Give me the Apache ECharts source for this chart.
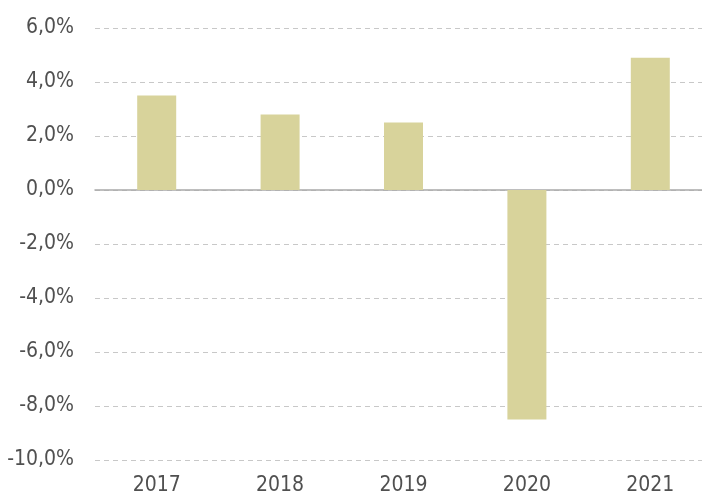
<!DOCTYPE html>
<html><head><meta charset="utf-8">
<script src="https://cdn.jsdelivr.net/npm/echarts@6/dist/echarts.min.js"></script>
<style>html,body{margin:0;padding:0;background:#fff}#c{width:702px;height:496px}</style>
</head><body><div id="c"></div>
<script>
const categories = ['2017', '2018', '2019', '2020', '2021'];
const growth = [3.5, 2.8, 2.5, -8.5, 4.9];
const yMin = -10, yMax = 6, yStep = 2;

const FONT = '"DejaVu Sans Condensed", "DejaVu Sans", sans-serif';
const chart = echarts.init(document.getElementById('c'), null, {renderer: 'canvas'});
chart.setOption({
  animation: false,
  grid: {left: 95, width: 617, top: 28, height: 432, containLabel: false, outerBoundsMode: 'none'},
  xAxis: {
    type: 'category', data: categories,
    axisLine: {onZero: true, lineStyle: {color: '#a9a9a9', width: 1.5}},
    axisTick: {show: false},
    axisLabel: {interval: 0, margin: 15, color: '#505050', fontSize: 21, fontFamily: FONT}
  },
  yAxis: {
    type: 'value', min: yMin, max: yMax, interval: yStep,
    axisLine: {show: false}, axisTick: {show: false},
    axisLabel: {margin: 21, color: '#505050', fontSize: 21, fontFamily: FONT,
      formatter: v => v.toFixed(1).replace('.', ',') + '%'},
    splitLine: {lineStyle: {color: '#c8c8c8', type: [5, 4], width: 1}}
  },
  series: [{
    type: 'bar', data: growth, barWidth: 39,
    itemStyle: {color: '#D8D39B'}
  }]
});
</script></body></html>
